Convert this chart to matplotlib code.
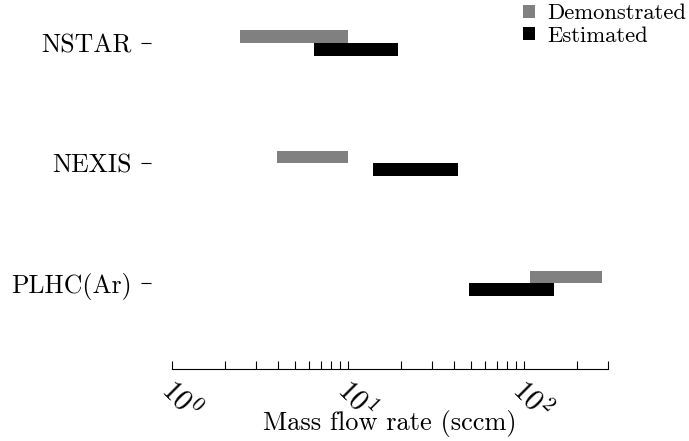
import matplotlib
matplotlib.use('Agg')
import matplotlib.pyplot as plt
import matplotlib.transforms as mtransforms
import numpy as np

plt.rcParams['font.family'] = 'serif'
plt.rcParams['font.serif'] = ['cmr10']
plt.rcParams['mathtext.fontset'] = 'cm'
plt.rcParams['axes.formatter.use_mathtext'] = True

# flow rate ranges in sccm
thrusters = ['NSTAR', 'NEXIS', 'PLHC(Ar)']
demo_low = [2.43, 3.93, 108]
demo_high = [10.0, 10.0, 279]
est_low = [6.4, 13.8, 48.9]
est_high = [19.2, 42.0, 149]

fig = plt.figure(figsize=(6.89, 4.41), dpi=100)
ax = fig.add_axes([0.25, 0.1633, 0.632, 0.8367])

y = np.arange(len(thrusters))
h = 0.105
ax.barh(y - h / 2, np.array(demo_high) - np.array(demo_low), left=demo_low,
        height=h, color='#808080', label='Demonstrated')
ax.barh(y + h / 2, np.array(est_high) - np.array(est_low), left=est_low,
        height=h, color='black', label='Estimated')

ax.set_xscale('log')
ax.set_xlim(1, 300)
ax.set_ylim(2.7125, -0.358)
ax.set_yticks(y)
ax.set_yticklabels(thrusters)

for s in ['top', 'right', 'left']:
    ax.spines[s].set_visible(False)
ax.spines['left'].set_position(('outward', 15))
ax.tick_params(axis='y', length=7, width=0.8, pad=7, labelsize=18.5)

ax.tick_params(axis='x', which='both', direction='in', length=6, width=0.8,
               labelsize=21, pad=4)
shift = mtransforms.ScaledTranslation(4 / 100, 0, fig.dpi_scale_trans)
for lab in ax.get_xticklabels():
    lab.set_rotation(-45)
    lab.set_ha('left')
    lab.set_rotation_mode('anchor')
    lab.set_transform(lab.get_transform() + shift)
ax.set_xlabel('Mass flow rate (sccm)', fontsize=19)
ax.xaxis.set_label_coords(0.5, -0.112)

fig.legend(loc='upper right', bbox_to_anchor=(1.016, 1.022), frameon=False, fontsize=16.3,
           handlelength=0.55, handleheight=0.55, handletextpad=0.55, labelspacing=0.12,
           borderaxespad=0.2)

fig.savefig('out.png', dpi=100)
